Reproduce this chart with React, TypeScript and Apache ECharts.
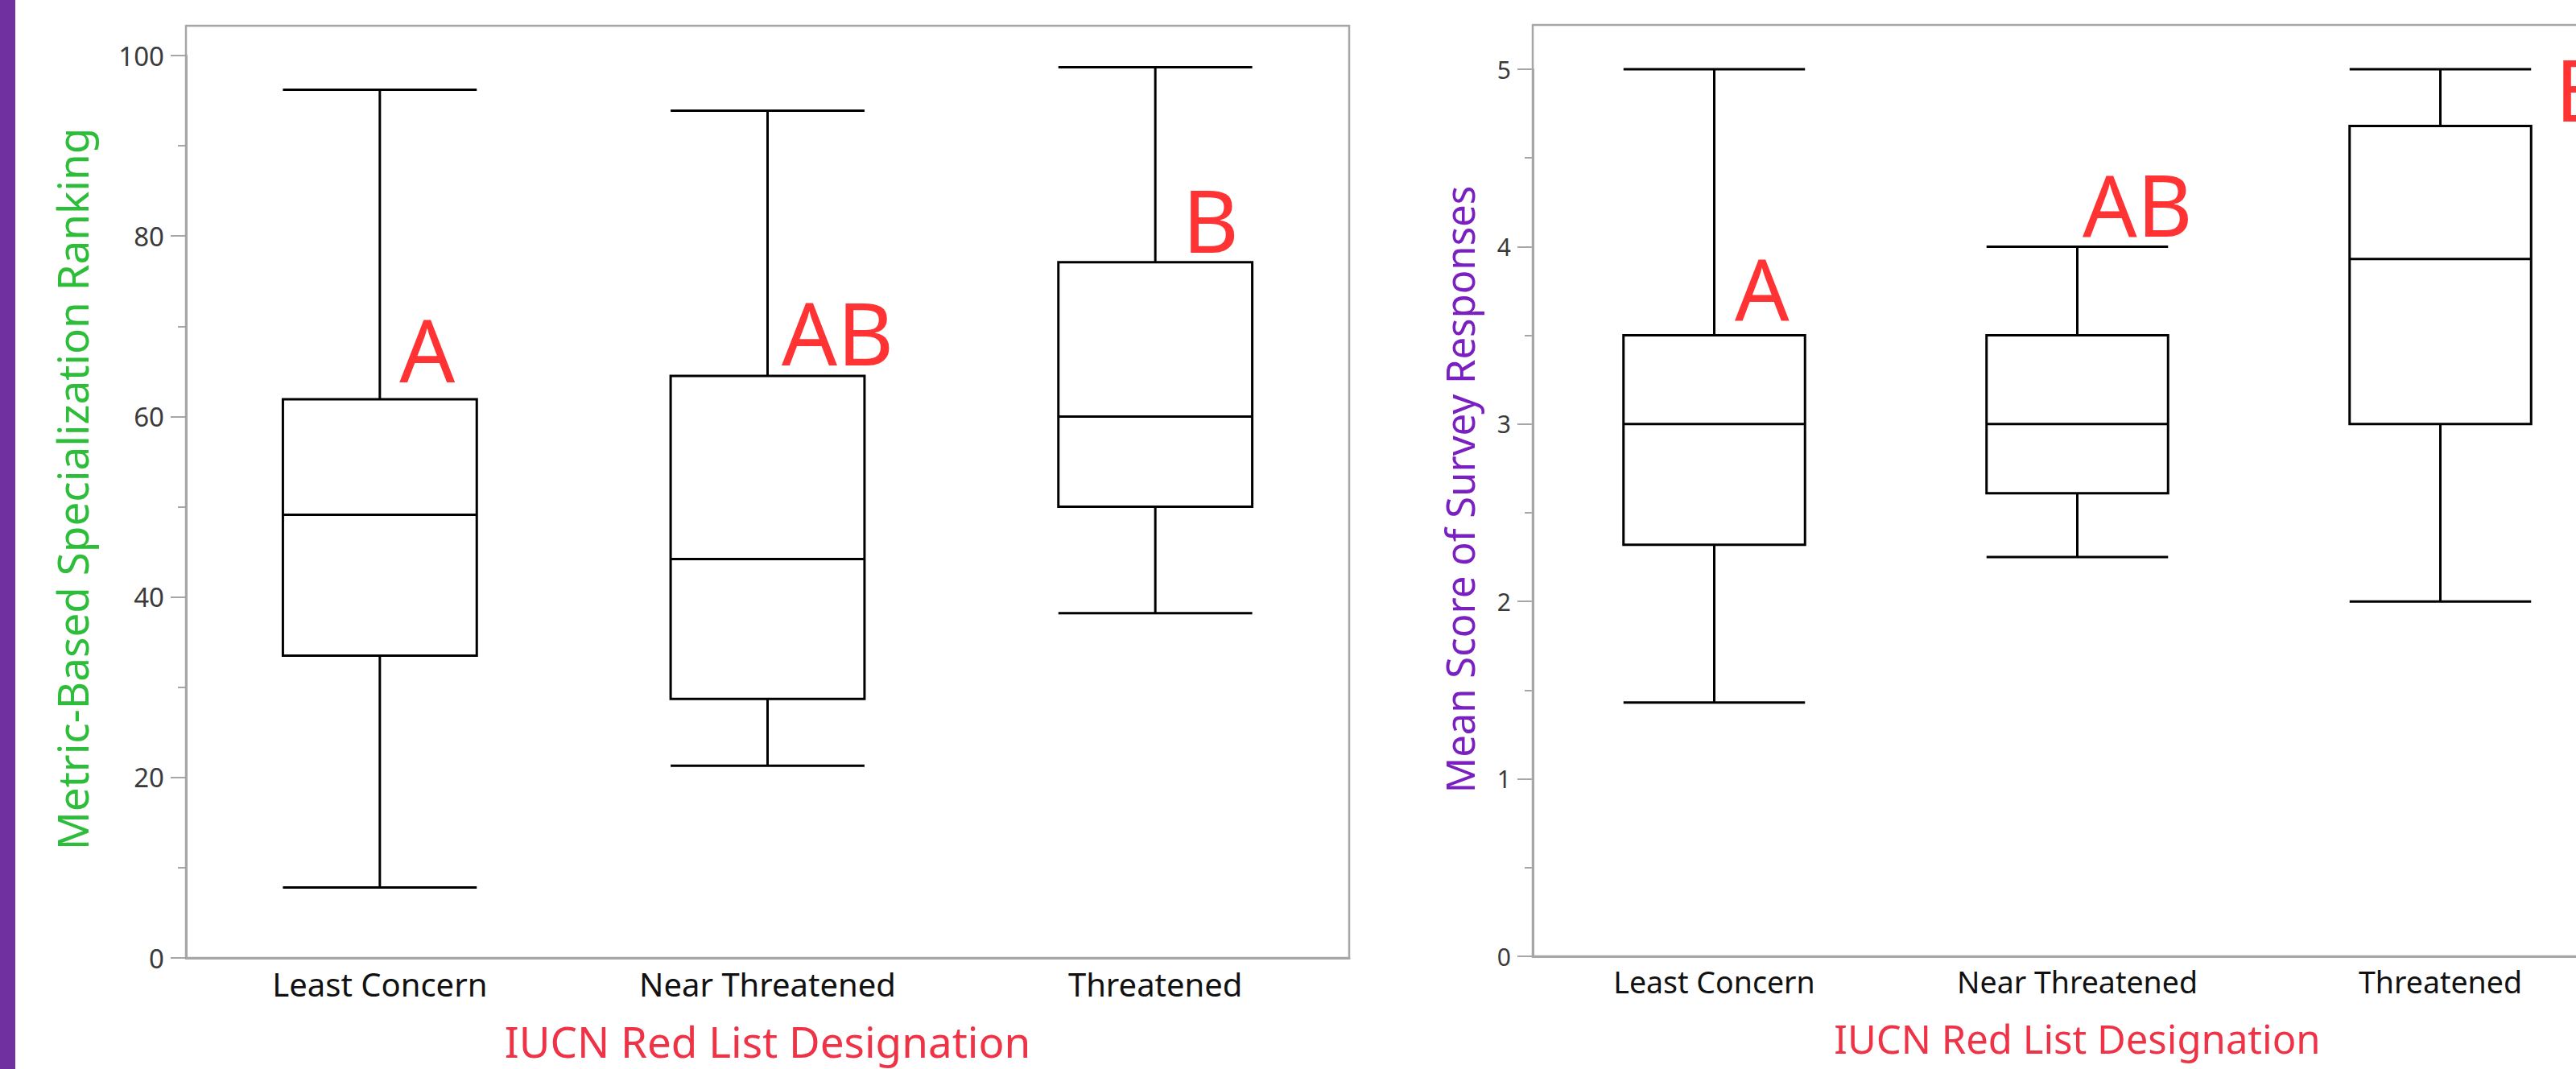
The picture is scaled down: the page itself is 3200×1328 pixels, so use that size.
import React, { useEffect, useRef } from "react";
import * as echarts from "echarts";

const categories = ["Least Concern", "Near Threatened", "Threatened"];
// [min, Q1, median, Q3, max]
const specializationBoxes = [
  [7.8, 33.5, 49.1, 61.9, 96.2],
  [21.3, 28.7, 44.2, 64.5, 93.9],
  [38.2, 50.0, 60.0, 77.1, 98.7],
];
const surveyBoxes = [
  [1.43, 2.32, 3.0, 3.5, 5.0],
  [2.25, 2.61, 3.0, 3.5, 4.0],
  [2.0, 3.0, 3.93, 4.68, 5.0],
];
const specializationLetters = ["A", "AB", "B"];
const specializationLetterValues = [67.4, 69.3, 81.8];
const surveyLetters = ["A", "AB", "B"];
const surveyLetterValues = [3.77, 4.24, 4.89];

const yTitleLeft = "Metric-Based Specialization Ranking";
const yTitleRight = "Mean Score of Survey Responses";
const xTitle = "IUCN Red List Designation";

const FONT = "Noto Sans";
const GRAY = "#a6a6a6";
const CANVAS_W = 3300;

export default function App() {
  const ref = useRef<HTMLDivElement>(null);
  useEffect(() => {
    document.body.style.margin = "0";
    document.body.style.overflow = "hidden";
    const chart = echarts.init(ref.current!, null, { renderer: "svg" });
    const letterOffsetsL = [25, 18, 34];
    const letterOffsetsR = [26, 7, 143];
    const mkLetters = (letters: string[], vals: number[], offs: number[], size: number) =>
      letters.map((t, i) => ({
        value: [i, vals[i]],
        label: {
          show: true,
          formatter: t,
          position: [offs[i], 0],
          align: "left",
          verticalAlign: "middle",
          fontSize: size,
          fontFamily: FONT,
          color: "#ff0000",
        },
      }));
    const xAxisCommon = (fs: number, titleFs: number, gap: number) => ({
      type: "category",
      data: categories,
      axisLine: { show: true, lineStyle: { color: GRAY, width: 3 } },
      axisTick: { show: false },
      axisLabel: { color: "#111", fontSize: fs, fontFamily: FONT, margin: 12 },
      name: xTitle,
      nameLocation: "middle",
      nameGap: gap,
      nameTextStyle: { color: "#ef3347", fontSize: titleFs, fontFamily: FONT, lineHeight: titleFs },
      splitLine: { show: false },
    });
    const yAxisCommon = (max: number, interval: number, fs: number, name: string, color: string, titleFs: number, gap: number, pad: number) => ({
      type: "value",
      min: 0,
      max,
      interval,
      axisLine: { show: true, lineStyle: { color: GRAY, width: 3 } },
      axisTick: { show: true, length: 19, lineStyle: { color: GRAY, width: 2 } },
      minorTick: { show: true, splitNumber: 2, length: 10, lineStyle: { color: GRAY, width: 2 } },
      splitLine: { show: false },
      minorSplitLine: { show: false },
      axisLabel: { color: "#3a3a3a", fontSize: fs, fontFamily: FONT, margin: 27 },
      name,
      nameLocation: "middle",
      nameGap: gap,
      nameTextStyle: { color, fontSize: titleFs, fontFamily: FONT, padding: [0, 0, 0, pad] },
    });
    chart.setOption({
      animation: false,
      backgroundColor: "#ffffff",
      grid: [
        { left: 231, top: 69, width: 1445, bottom: 138 },
        { left: 1904, top: 86, width: 1353, bottom: 140 },
      ],
      xAxis: [
        { gridIndex: 0, ...xAxisCommon(40, 53, 77) },
        { gridIndex: 1, ...xAxisCommon(37.5, 49, 77) },
      ],
      yAxis: [
        { gridIndex: 0, ...yAxisCommon(100, 20, 33, yTitleLeft, "#2ebd3a", 53, 115, 44) },
        { gridIndex: 1, ...yAxisCommon(5, 1, 30, yTitleRight, "#7a1fc0", 49, 67, 58) },
      ],
      graphic: [
        { type: "rect", shape: { x: 0, y: 0, width: 19, height: 1328 }, style: { fill: "#7030a0" } },
        { type: "rect", shape: { x: 231, y: 32, width: 1445, height: 1158 }, style: { fill: "none", stroke: GRAY, lineWidth: 2.5 } },
        { type: "rect", shape: { x: 1904, y: 31, width: 1353, height: 1157 }, style: { fill: "none", stroke: GRAY, lineWidth: 2.5 } },
      ],
      series: [
        {
          type: "boxplot",
          xAxisIndex: 0,
          yAxisIndex: 0,
          data: specializationBoxes,
          boxWidth: ["50%", "50%"],
          itemStyle: { color: "#ffffff", borderColor: "#000000", borderWidth: 3 },
        },
        {
          type: "boxplot",
          xAxisIndex: 1,
          yAxisIndex: 1,
          data: surveyBoxes,
          boxWidth: ["50%", "50%"],
          itemStyle: { color: "#ffffff", borderColor: "#000000", borderWidth: 3 },
        },
        {
          type: "scatter",
          xAxisIndex: 0,
          yAxisIndex: 0,
          symbolSize: 1,
          itemStyle: { color: "rgba(0,0,0,0)" },
          data: mkLetters(specializationLetters, specializationLetterValues, letterOffsetsL, 108),
        },
        {
          type: "scatter",
          xAxisIndex: 1,
          yAxisIndex: 1,
          symbolSize: 1,
          clip: false,
          itemStyle: { color: "rgba(0,0,0,0)" },
          data: mkLetters(surveyLetters, surveyLetterValues, letterOffsetsR, 106),
        },
      ],
    });
    return () => chart.dispose();
  }, []);
  return <div ref={ref} style={{ position: "fixed", left: 0, top: 0, width: CANVAS_W, height: 1328 }} />;
}
